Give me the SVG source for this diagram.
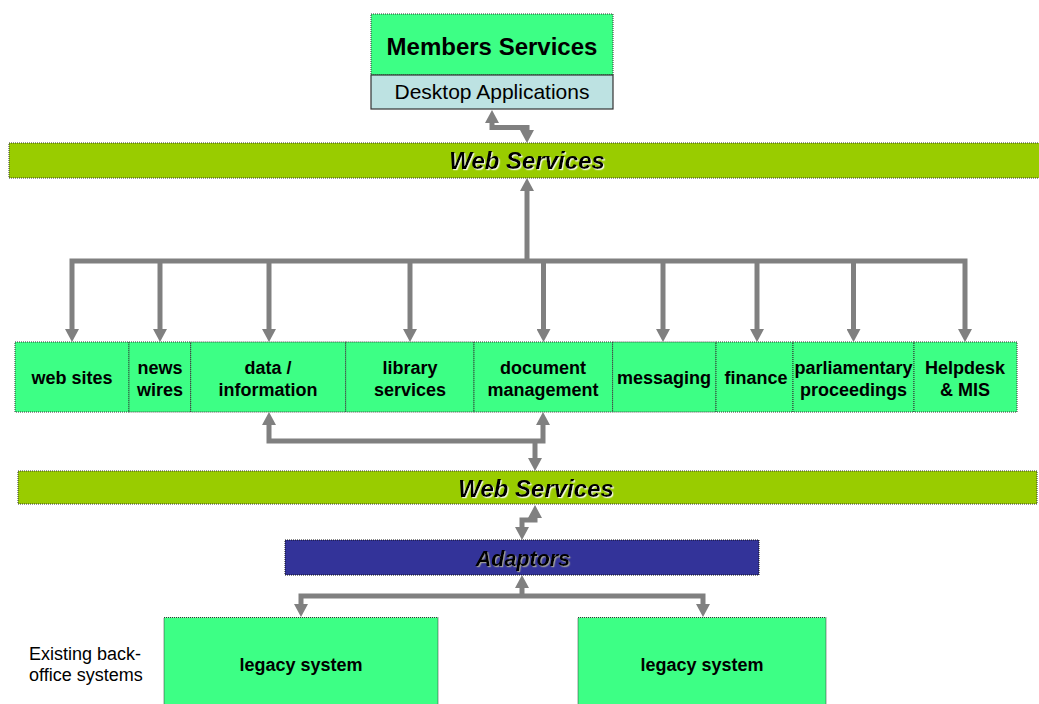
<svg xmlns="http://www.w3.org/2000/svg" width="1039" height="704" viewBox="0 0 1039 704">
<style>
.g{fill:#3DFF85;stroke:#333;stroke-width:1;stroke-dasharray:1,1}
.bar{fill:#99CC00;stroke:#333;stroke-width:1;stroke-dasharray:1,1}
.t{font-family:"Liberation Sans",Arial,sans-serif;font-weight:bold;font-size:18px;fill:#000;text-anchor:middle}
.n{font-family:"Liberation Sans",Arial,sans-serif;font-size:18px;fill:#000}
.ws{font-family:"Liberation Sans",Arial,sans-serif;font-weight:bold;font-style:italic;font-size:24px;fill:#000;text-anchor:middle}
.c{fill:none;stroke:#808080;stroke-width:5;stroke-linejoin:miter}
</style>
<defs>
<marker id="ah" markerUnits="userSpaceOnUse" markerWidth="14" markerHeight="14" refX="0" refY="7" orient="auto-start-reverse" viewBox="0 0 13 14">
<path d="M0,0 L13,7 L0,14 z" fill="#808080"/>
</marker>
<filter id="sh" x="-5%" y="-20%" width="110%" height="140%">
<feDropShadow dx="1.2" dy="1.2" stdDeviation="0" flood-color="#ffffff" flood-opacity="0.85"/>
</filter>
<filter id="sh2" x="-5%" y="-20%" width="110%" height="140%">
<feDropShadow dx="1.2" dy="1.2" stdDeviation="0" flood-color="#9a9a9a" flood-opacity="1"/>
</filter>
</defs>

<g id="members">
<rect x="371" y="14" width="242" height="61" class="g"/>
<text x="492" y="55" class="t" style="font-size:24px">Members Services</text>
</g>
<g id="desktop">
<rect x="371" y="75" width="242" height="34" fill="#BDE2E2" stroke="#333" stroke-width="1.2"/>
<text x="492" y="99" class="n" style="font-size:21px;text-anchor:middle">Desktop Applications</text>
</g>
<g id="webservices-top">
<rect x="9" y="143" width="1035" height="35" class="bar"/>
<text x="527" y="169" class="ws" filter="url(#sh)">Web Services</text>
</g>

<g id="web-sites"><rect x="15" y="342" width="114" height="70" class="g"/><text x="72" y="384" class="t">web sites</text></g>
<g id="news-wires"><rect x="129" y="342" width="61.7" height="70" class="g"/><text x="160" y="374" class="t">news</text><text x="160" y="396" class="t">wires</text></g>
<g id="data-information"><rect x="190.7" y="342" width="155" height="70" class="g"/><text x="268" y="374" class="t">data /</text><text x="268" y="396" class="t">information</text></g>
<g id="library-services"><rect x="345.7" y="342" width="128.3" height="70" class="g"/><text x="410" y="374" class="t">library</text><text x="410" y="396" class="t">services</text></g>
<g id="document-management"><rect x="474" y="342" width="138.6" height="70" class="g"/><text x="543" y="374" class="t">document</text><text x="543" y="396" class="t">management</text></g>
<g id="messaging"><rect x="612.6" y="342" width="103.4" height="70" class="g"/><text x="664" y="384" class="t">messaging</text></g>
<g id="finance"><rect x="716" y="342" width="77" height="70" class="g"/><text x="756" y="384" class="t">finance</text></g>
<g id="parliamentary-proceedings"><rect x="793" y="342" width="121" height="70" class="g"/><text x="853.5" y="374" class="t">parliamentary</text><text x="853.5" y="396" class="t">proceedings</text></g>
<g id="helpdesk-mis"><rect x="914" y="342" width="103" height="70" class="g"/><text x="965" y="374" class="t">Helpdesk</text><text x="965" y="396" class="t">&amp; MIS</text></g>

<g id="webservices-bottom">
<rect x="18" y="471" width="1019" height="33" class="bar"/>
<text x="536" y="497" class="ws" filter="url(#sh)">Web Services</text>
</g>
<g id="adaptors">
<rect x="285" y="540" width="474" height="35" fill="#333399" stroke="#111" stroke-width="1" stroke-dasharray="1,1"/>
<text x="523" y="566" class="ws" style="font-size:21.5px" filter="url(#sh2)">Adaptors</text>
</g>
<g id="existing-label">
<text x="29" y="660" class="n">Existing back-</text>
<text x="29" y="681" class="n">office systems</text>
</g>
<g id="legacy-1">
<rect x="164" y="617.5" width="274" height="95" class="g"/>
<text x="301" y="671" class="t">legacy system</text>
</g>
<g id="legacy-2">
<rect x="578" y="617.5" width="248" height="95" class="g"/>
<text x="702" y="671" class="t">legacy system</text>
</g>

<g id="connectors">
<path class="c" d="M492,123 L492,127.5 L527,127.5 L527,130" marker-start="url(#ah)" marker-end="url(#ah)"/>
<path class="c" d="M527,191 L527,261" marker-start="url(#ah)"/>
<path class="c" d="M72,329 L72,261 L965,261 L965,329" marker-start="url(#ah)" marker-end="url(#ah)"/>
<path class="c" d="M160,261 L160,329" marker-end="url(#ah)"/>
<path class="c" d="M269,261 L269,329" marker-end="url(#ah)"/>
<path class="c" d="M410,261 L410,329" marker-end="url(#ah)"/>
<path class="c" d="M543.5,261 L543.5,329" marker-end="url(#ah)"/>
<path class="c" d="M663,261 L663,329" marker-end="url(#ah)"/>
<path class="c" d="M757,261 L757,329" marker-end="url(#ah)"/>
<path class="c" d="M853.5,261 L853.5,329" marker-end="url(#ah)"/>
<path class="c" d="M269,425 L269,441 L543,441 L543,425" marker-start="url(#ah)" marker-end="url(#ah)"/>
<path class="c" d="M535,441 L535,458" marker-end="url(#ah)"/>
<path class="c" d="M535,518 L535,520 L522,520 L522,527" marker-start="url(#ah)" marker-end="url(#ah)"/>
<path class="c" d="M522,588 L522,596" marker-start="url(#ah)"/>
<path class="c" d="M301,604 L301,596 L703,596 L703,604" marker-start="url(#ah)" marker-end="url(#ah)"/>
</g>
</svg>
